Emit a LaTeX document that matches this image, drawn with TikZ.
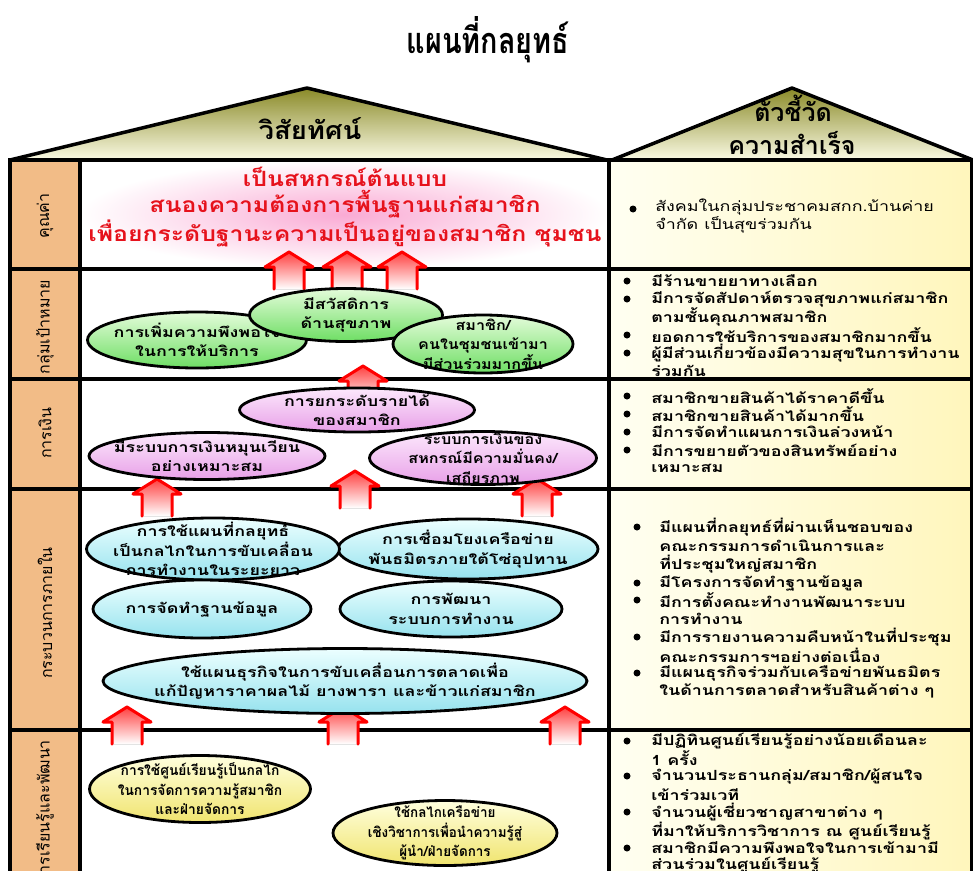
\documentclass[tikz,border=0pt]{standalone}
\usepackage{fontspec}
\newfontfamily\thaifont[Script=Thai]{Loma}
\usetikzlibrary{shapes.geometric}

\definecolor{roofdark}{RGB}{138,138,40}
\definecolor{roofpale}{RGB}{250,250,228}
\definecolor{tabdark}{RGB}{242,188,135}
\definecolor{tabpale}{RGB}{254,238,218}
\definecolor{kpipale}{RGB}{255,255,242}
\definecolor{kpiyellow}{RGB}{255,246,188}
\definecolor{visionred}{RGB}{230,18,28}
\definecolor{glowpink}{RGB}{250,170,212}
\definecolor{greenpale}{RGB}{228,252,218}
\definecolor{greendark}{RGB}{110,222,100}
\definecolor{pinkpale}{RGB}{252,232,252}
\definecolor{pinkdark}{RGB}{232,160,232}
\definecolor{cyanpale}{RGB}{236,255,255}
\definecolor{cyandark}{RGB}{150,226,238}
\definecolor{yellowpale}{RGB}{255,255,222}
\definecolor{yellowdark}{RGB}{240,228,110}

\tikzstyle{frame}=[line width=3.5pt]
\tikzstyle{goal}=[ellipse, draw=black, line width=2.8pt, inner sep=0pt]
\tikzstyle{goaltext}=[xscale=1.28, font=\thaifont\bfseries\fontsize{14}{19.5}\selectfont, align=center, inner sep=0pt]
\tikzstyle{greengoal}=[goal, top color=greenpale, bottom color=greendark]
\tikzstyle{pinkgoal}=[goal, top color=pinkpale, bottom color=pinkdark]
\tikzstyle{cyangoal}=[goal, top color=cyanpale, bottom color=cyandark]
\tikzstyle{yellowgoal}=[goal, top color=yellowpale, bottom color=yellowdark]
\tikzstyle{kpi}=[anchor=west, xscale=1.28, inner sep=0pt, font=\thaifont\bfseries\fontsize{14}{18}\selectfont]
\tikzstyle{tab}=[rotate=90, inner sep=0pt, font=\thaifont\fontsize{16}{16}\selectfont]
\tikzstyle{rooftext}=[inner sep=0pt, anchor=base, font=\thaifont\bfseries\fontsize{25}{25}\selectfont]

\tikzset{
  uparrow/.pic={
    \fill[top color=red!75!white, bottom color=white]
      (-15,0) -- (-15,-22) -- (-24,-22) -- (0,-37) -- (24,-22) -- (15,-22) -- (15,0) -- cycle;
    \draw[red, line width=3pt, line join=round, line cap=round]
      (-15,0) -- (-15,-22) -- (-24,-22) -- (0,-37) -- (24,-22) -- (15,-22) -- (15,0);
  }
}

\begin{document}
\begin{tikzpicture}[x=1pt, y=-1pt]
  \useasboundingbox (0,0) rectangle (973,870);

  \node[inner sep=0pt, font=\thaifont\bfseries\fontsize{36}{36}\selectfont] (title) at (488,40)
    {\scalebox{0.8}[1]{แผนที่กลยุทธ์}};

  % roofs
  \shade[top color=roofdark, bottom color=roofpale] (10,160) -- (307,88) -- (607,160) -- cycle;
  \shade[top color=roofdark, bottom color=roofpale] (612,160) -- (792,88) -- (973,160) -- cycle;
  \draw[frame, line join=round] (10,160) -- (307,88) -- (607,160);
  \draw[frame, line join=round] (612,160) -- (792,88) -- (973,160);
  \node[rooftext] (visionhead) at (310,139) {\scalebox{1.1}[1]{วิสัยทัศน์}};
  \node[rooftext] (kpihead1) at (793,121) {ตัวชี้วัด};
  \node[rooftext] (kpihead2) at (792,154) {ความสำเร็จ};

  % cells
  \shade[left color=tabdark, middle color=tabpale, right color=tabdark] (10,160) rectangle (80,880);
  \foreach \ya/\yb in {160/269,269/379,379/489,489/730,730/880}
    \shade[left color=kpipale, right color=kpiyellow] (609,\ya) rectangle (972,\yb);
  \shade[inner color=glowpink, outer color=white] (80,160) rectangle (609,269);

  \draw[frame] (10,160) rectangle (972,880);
  \draw[frame] (80,160) -- (80,880);
  \draw[frame] (609,160) -- (609,880);
  \foreach \y in {269,379,489,730}
    \draw[frame] (10,\y) -- (972,\y);

  \node[tab] (t1) at (45,216) {คุณค่า};
  \node[tab] (t2) at (45,327) {กลุ่มเป้าหมาย};
  \node[tab] (t3) at (45,433) {การเงิน};
  \node[tab] (t4) at (45,613) {กระบวนการภายใน};
  \node[tab] (t5) at (45,812) {การเรียนรู้และพัฒนา};

  \node[inner sep=0pt, align=center, text=visionred, xscale=1.18,
        font=\thaifont\bfseries\fontsize{21}{26}\selectfont] (vision) at (345,207)
    {เป็นสหกรณ์ต้นแบบ\\สนองความต้องการพื้นฐานแก่สมาชิก\\เพื่อยกระดับฐานะความเป็นอยู่ของสมาชิก ชุมชน};

  % arrows between layers
  \foreach \x in {289,347,402}
    \pic at (\x,289) {uparrow};
  \pic at (363,403) {uparrow};
  \pic at (157,516) {uparrow};
  \pic at (355,508) {uparrow};
  \pic at (537,516) {uparrow};
  \foreach \x in {127,343,565}
    \pic at (\x,744) {uparrow};

  % goals
  \node[greengoal, minimum width=219, minimum height=56,
    label={[goaltext]center:{การเพิ่มความพึงพอใจ\\ในการให้บริการ}}] (g1) at (197,340) {};
  \node[greengoal, minimum width=193, minimum height=53,
    label={[goaltext]center:{มีสวัสดิการ\\ด้านสุขภาพ}}] (g2) at (346,315) {};
  \node[greengoal, minimum width=180, minimum height=58,
    label={[goaltext, xscale=0.9]center:{สมาชิก/\\คนในชุมชนเข้ามา\\มีส่วนร่วมมากขึ้น}}] (g3) at (483,344) {};

  \node[pinkgoal, minimum width=235, minimum height=44,
    label={[goaltext]center:{การยกระดับรายได้\\ของสมาชิก}}] (f1) at (357,410) {};
  \node[pinkgoal, minimum width=236, minimum height=47,
    label={[goaltext]center:{มีระบบการเงินหมุนเวียน\\อย่างเหมาะสม}}] (f2) at (207,456) {};
  \node[pinkgoal, minimum width=227, minimum height=53,
    label={[goaltext, xscale=0.9]center:{ระบบการเงินของ\\สหกรณ์มีความมั่นคง/\\เสถียรภาพ}}] (f3) at (483,458) {};

  \node[cyangoal, minimum width=260, minimum height=60,
    label={[goaltext]center:{การเชื่อมโยงเครือข่าย\\พันธมิตรภายใต้โซ่อุปทาน}}] (p2) at (468,549) {};
  \node[cyangoal, minimum width=253, minimum height=62,
    label={[goaltext]center:{การใช้แผนที่กลยุทธ์\\เป็นกลไกในการขับเคลื่อน\\การทำงานในระยะยาว}}] (p1) at (213,549) {};
  \node[cyangoal, minimum width=218, minimum height=58,
    label={[goaltext]center:{การจัดทำฐานข้อมูล}}] (p3) at (202,609) {};
  \node[cyangoal, minimum width=222, minimum height=56,
    label={[goaltext]center:{การพัฒนา\\ระบบการทำงาน}}] (p4) at (451,609) {};
  \node[cyangoal, minimum width=484, minimum height=65,
    label={[goaltext]center:{ใช้แผนธุรกิจในการขับเคลื่อนการตลาดเพื่อ\\แก้ปัญหาราคาผลไม้ ยางพารา และข้าวแก่สมาชิก}}] (p5) at (345,681) {};

  \node[yellowgoal, minimum width=221, minimum height=67,
    label={[goaltext, xscale=0.77]center:{การใช้ศูนย์เรียนรู้เป็นกลไก\\ในการจัดการความรู้สมาชิก\\และฝ่ายจัดการ}}] (l1) at (200,789) {};
  \node[yellowgoal, minimum width=224, minimum height=65,
    label={[goaltext, xscale=0.75]center:{ใช้กลไกเครือข่าย\\เชิงวิชาการเพื่อนำความรู้สู่\\ผู้นำ/ฝ่ายจัดการ}}] (l2) at (445,833) {};

  % indicators
  \node[kpi, font=\thaifont\fontsize{14}{18}\selectfont, anchor=north west, align=left] (k1) at (655,199)
    {สังคมในกลุ่มประชาคมสกก.บ้านค่าย\\จำกัด เป็นสุขร่วมกัน};
  \fill (633,209) circle (3.5);

  \foreach \y/\b/\t in {281/1/มีร้านขายยาทางเลือก, 299/1/มีการจัดสัปดาห์ตรวจสุขภาพแก่สมาชิก,
      317/0/ตามชั้นคุณภาพสมาชิก, 335/1/ยอดการใช้บริการของสมาชิกมากขึ้น,
      353/1/ผู้มีส่วนเกี่ยวข้องมีความสุขในการทำงาน, 371/0/ร่วมกัน,
      396/1/สมาชิกขายสินค้าได้ราคาดีขึ้น, 414/1/สมาชิกขายสินค้าได้มากขึ้น,
      432/1/มีการจัดทำแผนการเงินล่วงหน้า, 450/1/มีการขยายตัวของสินทรัพย์อย่าง,
      468/0/เหมาะสม,
      741/1/มีปฏิทินศูนย์เรียนรู้อย่างน้อยเดือนละ, 758/0/1 ครั้ง,
      776/1/{จำนวนประธานกลุ่ม/สมาชิก/ผู้สนใจ}, 795/0/เข้าร่วมเวที,
      812/1/จำนวนผู้เชี่ยวชาญสาขาต่าง ๆ, 831/0/ที่มาให้บริการวิชาการ ณ ศูนย์เรียนรู้,
      848/1/สมาชิกมีความพึงพอใจในการเข้ามามี, 865/0/ส่วนร่วมในศูนย์เรียนรู้}{
    \node[kpi] (k\y) at (651,\y) {\t};
    \ifnum\b=1 \fill (627,\y) circle (3.5); \fi
  }
  \foreach \y/\b/\t in {527/1/มีแผนที่กลยุทธ์ที่ผ่านเห็นชอบของ, 546/0/คณะกรรมการดำเนินการและ,
      564/0/ที่ประชุมใหญ่สมาชิก, 583/1/มีโครงการจัดทำฐานข้อมูล,
      600/1/มีการตั้งคณะทำงานพัฒนาระบบ, 619/0/การทำงาน,
      637/1/มีการรายงานความคืบหน้าในที่ประชุม, 655/0/คณะกรรมการฯอย่างต่อเนื่อง,
      673/1/มีแผนธุรกิจร่วมกับเครือข่ายพันธมิตร, 691/0/ในด้านการตลาดสำหรับสินค้าต่าง ๆ}{
    \node[kpi] (k\y) at (659,\y) {\t};
    \ifnum\b=1 \fill (637,\y) circle (3.5); \fi
  }
\end{tikzpicture}
\end{document}
